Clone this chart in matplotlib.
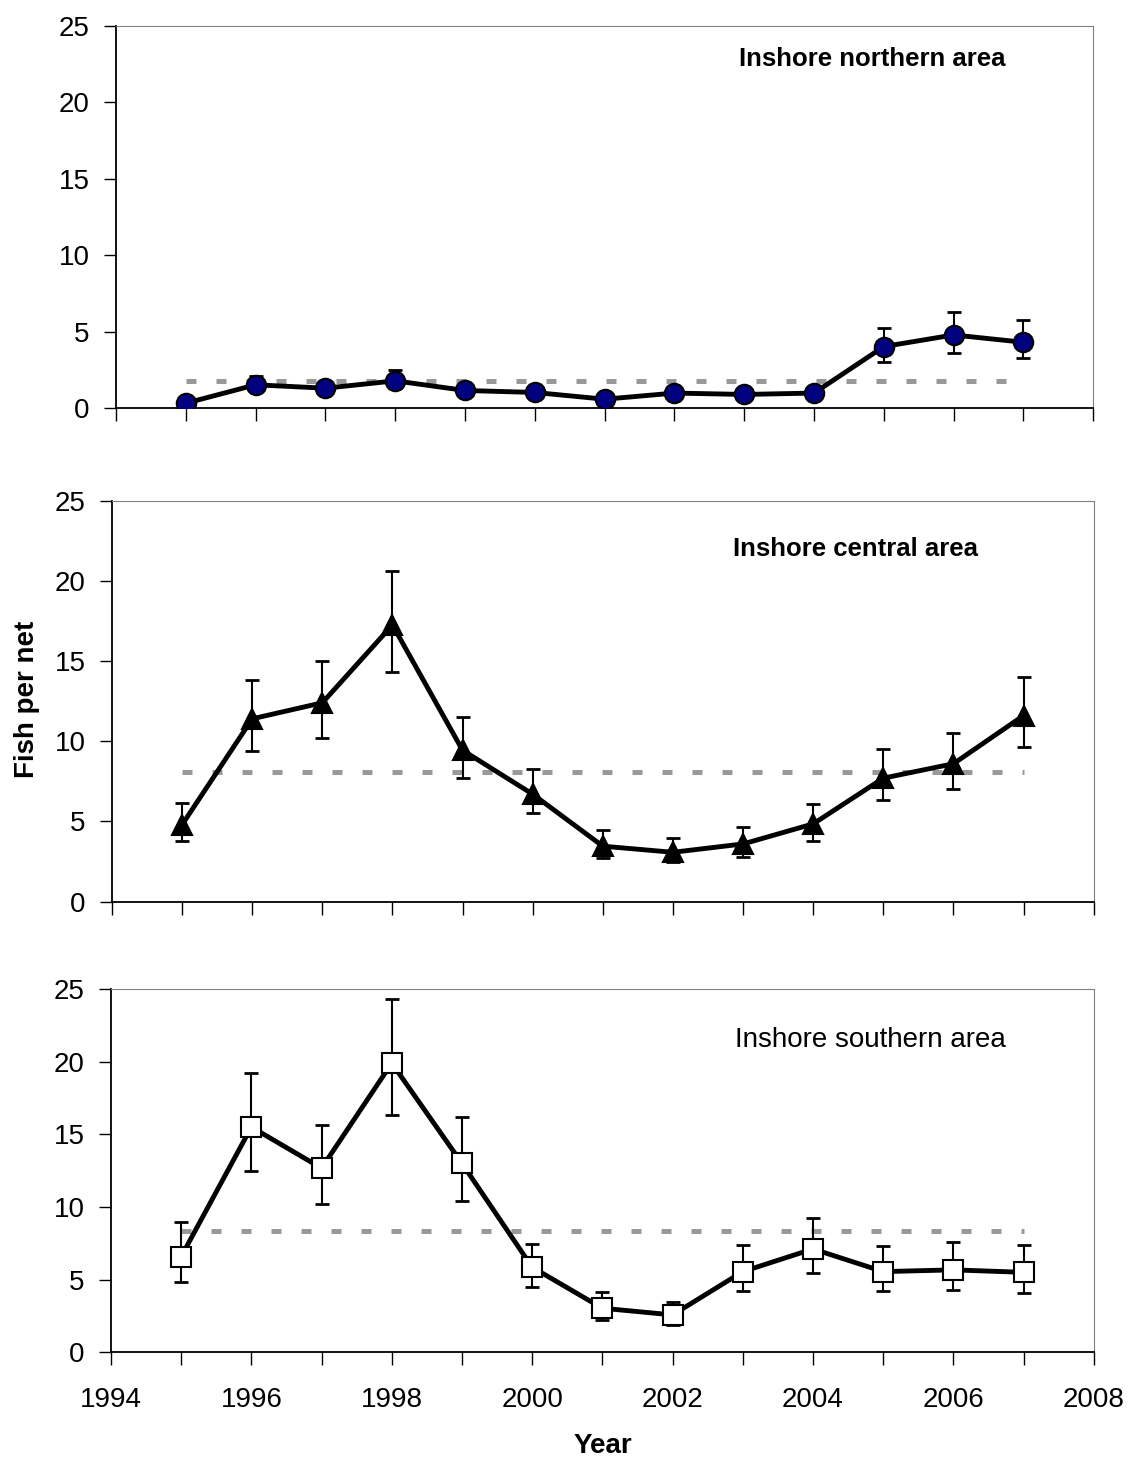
import matplotlib.pyplot as plt

plt.rcParams['font.family'] = ['Liberation Sans', 'DejaVu Sans']

years = list(range(1995, 2008))

# inshore northern area
north = [0.32, 1.52, 1.3, 1.78, 1.15, 1.02, 0.58, 0.98, 0.89, 0.98, 4.02, 4.78, 4.3]
north_lo = [0.15, 1.1, 1.0, 1.3, 0.9, 0.8, 0.4, 0.75, 0.7, 0.75, 3.0, 3.63, 3.26]
north_hi = [0.5, 2.1, 1.6, 2.5, 1.4, 1.3, 0.8, 1.2, 1.1, 1.2, 5.26, 6.3, 5.74]
north_mean = 1.78

# inshore central area
central = [4.8, 11.4, 12.4, 17.25, 9.44, 6.7, 3.46, 3.08, 3.6, 4.85, 7.7, 8.6, 11.6]
central_lo = [3.77, 9.4, 10.2, 14.3, 7.7, 5.5, 2.7, 2.5, 2.8, 3.8, 6.35, 7.0, 9.65]
central_hi = [6.17, 13.8, 15.0, 20.6, 11.5, 8.3, 4.44, 3.98, 4.64, 6.06, 9.5, 10.5, 14.0]
central_mean = 8.08

# inshore southern area
south = [6.58, 15.5, 12.67, 19.9, 13.0, 5.85, 3.03, 2.57, 5.55, 7.11, 5.55, 5.67, 5.5]
south_lo = [4.84, 12.5, 10.2, 16.3, 10.4, 4.5, 2.2, 1.88, 4.2, 5.48, 4.22, 4.27, 4.08]
south_hi = [8.95, 19.2, 15.65, 24.3, 16.2, 7.46, 4.13, 3.48, 7.39, 9.23, 7.34, 7.6, 7.41]
south_mean = 8.35

panels = [
    (north, north_lo, north_hi, north_mean, 'Inshore northern area', 'bold',
     dict(marker='o', mfc='#000080', mec='black', markersize=14),
     [0.1026, 0.7205, 0.864, 0.262], (0.774, 0.912)),
    (central, central_lo, central_hi, central_mean, 'Inshore central area', 'bold',
     dict(marker='^', mfc='black', mec='black', markersize=14),
     [0.099, 0.3824, 0.868, 0.2747], (0.757, 0.880)),
    (south, south_lo, south_hi, south_mean, 'Inshore southern area', 'normal',
     dict(marker='s', mfc='white', mec='black', markersize=14),
     [0.0981, 0.0738, 0.869, 0.2488], (0.773, 0.86)),
]

fig = plt.figure(figsize=(11.31, 14.6), dpi=100)

for i, (vals, lo, hi, mean, title, weight, mk, pos, tpos) in enumerate(panels):
    ax = fig.add_axes(pos)
    ax.plot([years[0], years[-1]], [mean, mean], color='#999999', lw=3.6,
            linestyle=(0, (2, 4)), zorder=1)
    err = [[v - l for v, l in zip(vals, lo)], [h - v for v, h in zip(vals, hi)]]
    ax.errorbar(years, vals, yerr=err, fmt='none', ecolor='black', elinewidth=1.5,
                capsize=5, capthick=2, zorder=2)
    ax.plot(years, vals, color='black', lw=3.5, mew=1.5, zorder=3, **mk)
    ax.set_xlim(1994, 2008)
    ax.set_ylim(0, 25)
    ax.set_yticks(range(0, 26, 5))
    ax.set_xticks(range(1994, 2009, 2))
    ax.set_xticks(range(1994, 2009), minor=True)
    ax.tick_params(axis='both', which='both', direction='out', length=9, width=1,
                   labelsize=20)
    ax.tick_params(axis='y', pad=10)
    ax.tick_params(axis='x', pad=16)
    if i < 2:
        ax.tick_params(axis='x', labelbottom=False)
    for s in ['top', 'right']:
        ax.spines[s].set_color('#808080')
    for s in ['left', 'bottom']:
        ax.spines[s].set_color('black')
        ax.spines[s].set_linewidth(1.3)
    ax.text(tpos[0], tpos[1], title, transform=ax.transAxes, ha='center', va='center',
            fontsize=18.5 if weight == 'bold' else 20, fontweight=weight)

fig.text(0.024, 0.521, 'Fish per net', rotation=90, ha='center', va='center',
         fontsize=20, fontweight='bold')
fig.text(0.533, 0.0095, 'Year', ha='center', va='center', fontsize=20, fontweight='bold')

fig.savefig('out.png', dpi=100)
